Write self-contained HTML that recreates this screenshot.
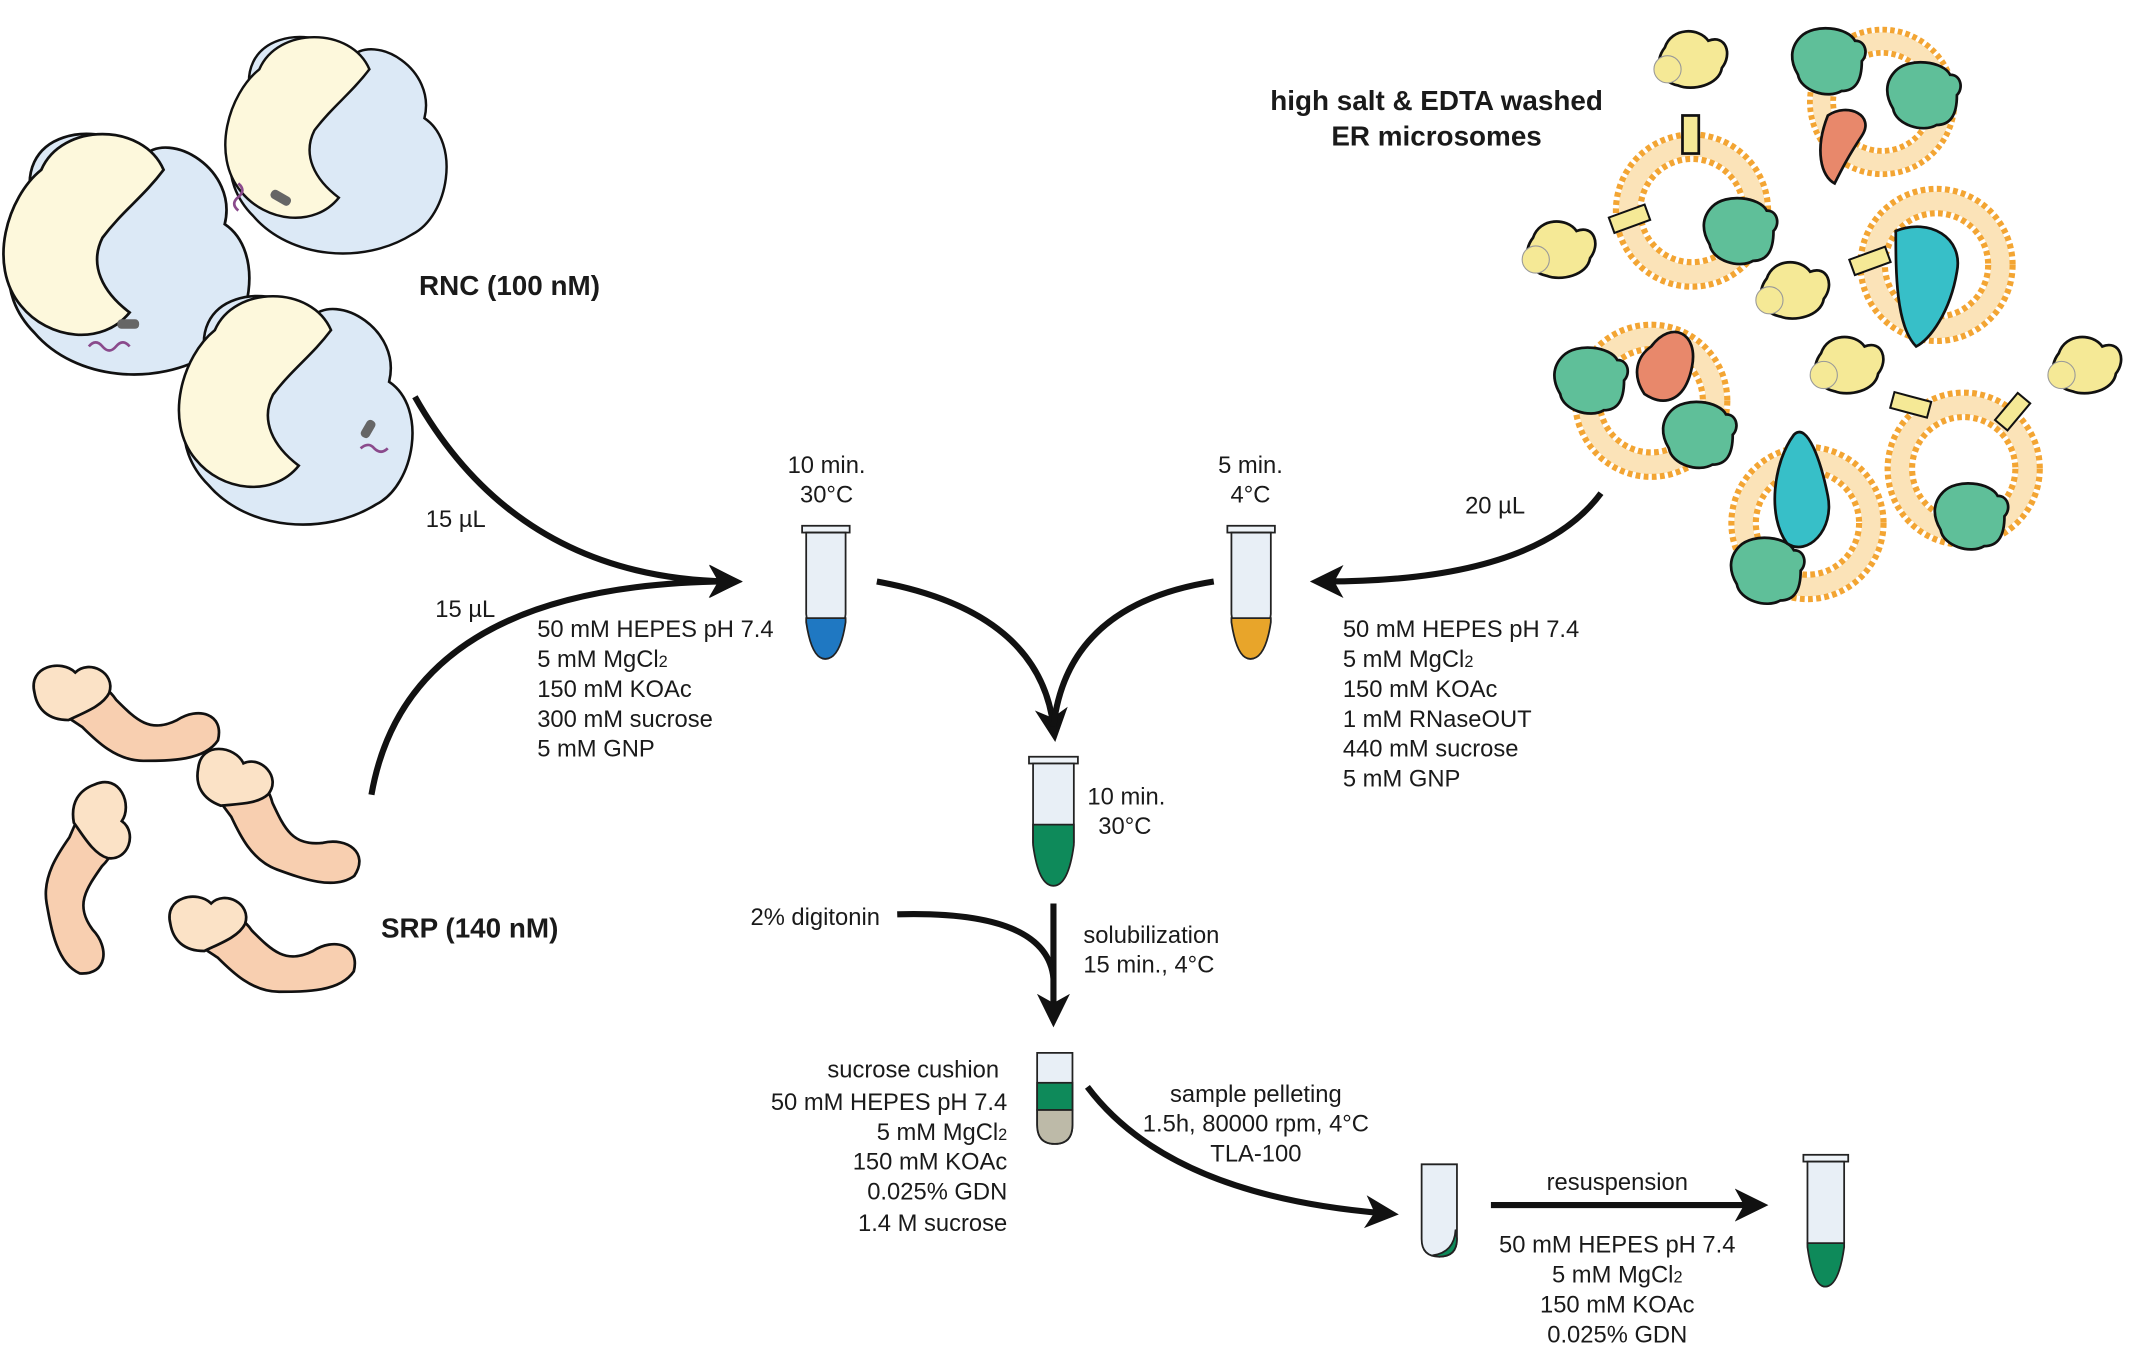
<!DOCTYPE html>
<html><head><meta charset="utf-8"><style>
html,body{margin:0;padding:0;background:#fff;}
svg{display:block;}
text{font-family:"Liberation Sans",sans-serif;fill:#1a1a1a;}
.t{font-size:17.5px;}
.b{font-size:20.5px;font-weight:bold;}
.ar{fill:none;stroke:#111;stroke-width:4.5;}
.o{stroke:#111;stroke-width:2;}
</style></head><body>
<svg width="2130" height="1345" viewBox="0 0 1567 990" xmlns="http://www.w3.org/2000/svg">
<defs>
<marker id="ah" markerWidth="6" markerHeight="6" refX="3" refY="3" orient="auto" markerUnits="strokeWidth">
<path d="M0,0.3 L5.5,3 L0,5.7 L1.5,3 Z" fill="#111"/></marker>
<g id="ring">
<circle r="47" fill="none" stroke="#fbe3b8" stroke-width="14"/>
<circle r="56" fill="none" stroke="#f3a533" stroke-width="4.5" stroke-dasharray="3.5 2.5"/>
<circle r="38" fill="none" stroke="#f3a533" stroke-width="4.5" stroke-dasharray="3.5 2.5"/>
</g>
<g id="rib">
<path d="M-60,-30 C-80,-90 -10,-100 20,-70 C40,-90 90,-60 80,-20 C110,0 100,60 70,75 C30,100 -30,95 -60,60 C-90,30 -80,-10 -60,-30 Z" fill="#dce9f6" class="o"/>
<path d="M-55,-60 C-40,-95 20,-95 35,-60 C20,-40 5,-30 -10,-10 C-20,10 -10,30 10,45 C-10,70 -50,65 -70,40 C-95,10 -80,-40 -55,-60 Z" fill="#fdf8dc" class="o"/>
</g>
<g id="srp">
<path d="M-40,-20 C-30,-35 -10,-30 0,-15 C15,0 25,10 45,0 C60,-10 80,-5 75,15 C65,30 40,30 20,30 C0,30 -15,15 -25,5 C-40,-5 -50,-10 -40,-20 Z" fill="#f8cfb0" class="o"/>
<path d="M-60,-20 C-65,-40 -40,-45 -30,-35 C-20,-45 0,-35 -5,-20 C-10,-10 -25,-5 -35,0 C-50,0 -58,-8 -60,-20 Z" fill="#fbe2c6" class="o"/>
</g>
<g id="gp"><path d="M-20,-18 C-10,-28 15,-25 20,-15 C28,-15 30,-5 25,0 C25,15 20,22 10,22 C0,28 -20,22 -22,10 C-28,0 -28,-10 -20,-18 Z" fill="#5fbf99" class="o"/></g>
<g id="yp"><path d="M-20,-10 C-15,-25 5,-25 12,-15 C25,-20 30,-5 22,5 C20,18 0,22 -10,18 C-25,15 -28,0 -20,-10 Z" fill="#f5e996" class="o"/><circle cx="-18" cy="6" r="10" fill="#f5e996" stroke="#999" stroke-width="0.8"/></g>
</defs>

<use href="#rib" transform="translate(85,185)"/>
<use href="#rib" transform="translate(240,105) scale(0.9)"/>
<use href="#rib" transform="translate(210,300) scale(0.95)"/>
<path d="M65,255 q5,-6 10,0 q5,6 10,0 q5,-6 10,0" fill="none" stroke="#8a4a8c" stroke-width="2"/>
<path d="M175,135 q6,5 0,10 q-6,5 0,10" fill="none" stroke="#8a4a8c" stroke-width="2"/>
<path d="M265,330 q6,-5 10,0 q5,5 10,0" fill="none" stroke="#8a4a8c" stroke-width="2"/>
<rect x="86" y="235" width="16" height="7" rx="3" fill="#666"/>
<rect x="198" y="142" width="16" height="7" rx="3" fill="#666" transform="rotate(30 206 146)"/>
<rect x="264" y="312" width="14" height="7" rx="3" fill="#666" transform="rotate(-60 271 316)"/>
<text x="308" y="217" class="b">RNC (100 nM)</text>

<use href="#srp" transform="translate(85,530)"/>
<use href="#srp" transform="translate(60,640) rotate(80)"/>
<use href="#srp" transform="translate(195,605) rotate(20)"/>
<use href="#srp" transform="translate(185,700)"/>
<text x="280" y="690" class="b">SRP (140 nM)</text>

<use href="#ring" transform="translate(1245,155)"/>
<use href="#ring" transform="translate(1385,75) scale(0.95)"/>
<use href="#ring" transform="translate(1425,195)"/>
<use href="#ring" transform="translate(1215,295)"/>
<use href="#ring" transform="translate(1330,385)"/>
<use href="#ring" transform="translate(1445,345)"/>
<use href="#gp" transform="translate(1345,45)"/>
<use href="#gp" transform="translate(1415,70)"/>
<use href="#gp" transform="translate(1280,170)"/>
<use href="#gp" transform="translate(1170,280)"/>
<use href="#gp" transform="translate(1250,320)"/>
<use href="#gp" transform="translate(1300,420)"/>
<use href="#gp" transform="translate(1450,380)"/>
<path d="M1345,85 C1360,75 1380,85 1370,100 C1360,115 1355,125 1350,135 C1340,130 1335,110 1345,85 Z" fill="#e8886b" class="o"/>
<path d="M1215,255 C1230,235 1250,245 1245,270 C1240,295 1225,300 1210,290 C1200,275 1205,262 1215,255 Z" fill="#e8886b" class="o"/>
<path d="M1395,170 C1420,160 1445,175 1440,200 C1435,230 1420,250 1410,255 C1395,240 1395,200 1395,170 Z" fill="#37bfc8" class="o"/>
<path d="M1320,320 C1330,310 1340,340 1345,365 C1350,390 1330,410 1315,400 C1300,380 1305,340 1320,320 Z" fill="#37bfc8" class="o"/>
<use href="#yp" transform="translate(1245,45)"/>
<use href="#yp" transform="translate(1148,185)"/>
<use href="#yp" transform="translate(1320,215)"/>
<use href="#yp" transform="translate(1360,270)"/>
<use href="#yp" transform="translate(1535,270)"/>
<rect x="1238" y="85" width="12" height="28" fill="#f5e996" class="o" stroke-width="1.5"/>
<rect x="1185" y="155" width="28" height="12" fill="#f5e996" stroke="#111" stroke-width="1.5" transform="rotate(-20 1199 161)"/>
<rect x="1362" y="186" width="28" height="12" fill="#f5e996" stroke="#111" stroke-width="1.5" transform="rotate(-20 1376 192)"/>
<rect x="1392" y="292" width="28" height="12" fill="#f5e996" stroke="#111" stroke-width="1.5" transform="rotate(15 1406 298)"/>
<rect x="1475" y="290" width="12" height="26" fill="#f5e996" stroke="#111" stroke-width="1.5" transform="rotate(40 1481 303)"/>
<text x="1057" y="81" class="b" text-anchor="middle">high salt &amp; EDTA washed</text>
<text x="1057" y="107" class="b" text-anchor="middle">ER microsomes</text>

<path class="ar" d="M305,292 Q380,425 535,428" marker-end="url(#ah)"/>
<path class="ar" d="M273,585 Q300,430 535,428" marker-end="url(#ah)"/>
<path class="ar" d="M1178,363 Q1130,428 975,428" marker-end="url(#ah)"/>
<path class="ar" d="M645,428 Q765,450 775,535" marker-end="url(#ah)"/>
<path class="ar" d="M893,428 Q785,445 775,535"/>
<path class="ar" d="M775,665 L775,745" marker-end="url(#ah)"/>
<path class="ar" d="M660,673 Q770,670 775,720"/>
<path class="ar" d="M800,800 Q860,880 1018,893" marker-end="url(#ah)"/>
<path class="ar" d="M1097,887 L1290,887" marker-end="url(#ah)"/>

<g stroke="#222" stroke-width="1.3">
<rect x="590" y="387" width="35" height="5" fill="#eef3f8"/>
<path d="M593,392 L622,392 L622,452 Q618,485 607,485 Q597,485 593,452 Z" fill="#e8eff6"/>
<path d="M593,455 L622,455 L622,458 Q618,485 607,485 Q597,485 593,458 Z" fill="#1f78c2"/>
<rect x="903" y="387" width="35" height="5" fill="#eef3f8"/>
<path d="M906,392 L935,392 L935,452 Q931,485 920,485 Q910,485 906,452 Z" fill="#e8eff6"/>
<path d="M906,455 L935,455 L935,458 Q931,485 920,485 Q910,485 906,458 Z" fill="#e8a52a"/>
<rect x="757" y="557" width="36" height="5" fill="#eef3f8"/>
<path d="M760,562 L790,562 L790,620 Q786,652 775,652 Q764,652 760,620 Z" fill="#e8eff6"/>
<path d="M760,607 L790,607 L790,622 Q786,652 775,652 Q764,652 760,622 Z" fill="#0e8a5a"/>
<path d="M763,775 L789,775 L789,828 Q789,842 776,842 Q763,842 763,828 Z" fill="#e8eff6"/>
<rect x="763" y="797" width="26" height="20" fill="#0e8a5a"/>
<path d="M763,817 L789,817 L789,828 Q789,842 776,842 Q763,842 763,828 Z" fill="#bdbaa8"/>
<path d="M1046,857 L1072,857 L1072,912 Q1072,925 1059,925 Q1046,925 1046,912 Z" fill="#e8eff6"/>
<path d="M1054,924 Q1070,922 1071,905 L1072,912 Q1072,925 1059,925 Z" fill="#0e8a5a"/>
<rect x="1327" y="850" width="33" height="5" fill="#eef3f8"/>
<path d="M1330,855 L1357,855 L1357,915 Q1353,947 1343,947 Q1334,947 1330,915 Z" fill="#e8eff6"/>
<path d="M1330,915 L1357,915 L1357,918 Q1353,947 1343,947 Q1334,947 1330,918 Z" fill="#0e8a5a"/>
</g>

<g class="t">
<text x="608" y="348" text-anchor="middle">10 min.</text>
<text x="608" y="370" text-anchor="middle">30°C</text>
<text x="920" y="348" text-anchor="middle">5 min.</text>
<text x="920" y="370" text-anchor="middle">4°C</text>
<text x="313" y="388">15 µL</text>
<text x="320" y="454">15 µL</text>
<text x="1078" y="378">20 µL</text>
<text x="395" y="469">50 mM HEPES pH 7.4</text>
<text x="395" y="491">5 mM MgCl<tspan font-size="12">2</tspan></text>
<text x="395" y="513">150 mM KOAc</text>
<text x="395" y="535">300 mM sucrose</text>
<text x="395" y="557">5 mM GNP</text>
<text x="988" y="469">50 mM HEPES pH 7.4</text>
<text x="988" y="491">5 mM MgCl<tspan font-size="12">2</tspan></text>
<text x="988" y="513">150 mM KOAc</text>
<text x="988" y="535">1 mM RNaseOUT</text>
<text x="988" y="557">440 mM sucrose</text>
<text x="988" y="579">5 mM GNP</text>
<text x="800" y="592">10 min.</text>
<text x="808" y="614">30°C</text>
<text x="552" y="681">2% digitonin</text>
<text x="797" y="694">solubilization</text>
<text x="797" y="716">15 min., 4°C</text>
<text x="735" y="793" text-anchor="end">sucrose cushion</text>
<text x="741" y="817" text-anchor="end">50 mM HEPES pH 7.4</text>
<text x="741" y="839" text-anchor="end">5 mM MgCl<tspan font-size="12">2</tspan></text>
<text x="741" y="861" text-anchor="end">150 mM KOAc</text>
<text x="741" y="883" text-anchor="end">0.025% GDN</text>
<text x="741" y="906" text-anchor="end">1.4 M sucrose</text>
<text x="924" y="811" text-anchor="middle">sample pelleting</text>
<text x="924" y="833" text-anchor="middle">1.5h, 80000 rpm, 4°C</text>
<text x="924" y="855" text-anchor="middle">TLA-100</text>
<text x="1190" y="876" text-anchor="middle">resuspension</text>
<text x="1190" y="922" text-anchor="middle">50 mM HEPES pH 7.4</text>
<text x="1190" y="944" text-anchor="middle">5 mM MgCl<tspan font-size="12">2</tspan></text>
<text x="1190" y="966" text-anchor="middle">150 mM KOAc</text>
<text x="1190" y="988" text-anchor="middle">0.025% GDN</text>
</g>
</svg>
</body></html>
